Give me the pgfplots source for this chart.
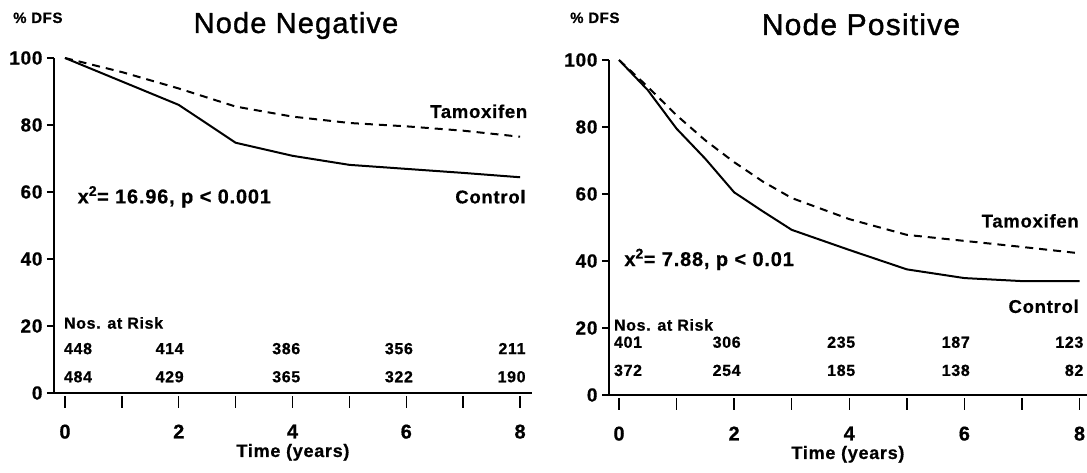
\documentclass[border=0pt]{standalone}
\usepackage{fontspec}
\setmainfont{Liberation Sans}[LetterSpace=4, BoldFeatures={FakeBold=0.6}]
\usepackage{pgfplots}
\usepackage{pgfplotstable}
\pgfplotsset{compat=1.18}

\newcommand\fs[1]{\fontsize{#1}{#1}\selectfont}

% disease-free survival (%), node-negative patients
\pgfplotstableread{
t   ctrl  tam
0   100   100
1   93.0  95.8
2   86.0  90.9
3   74.7  85.5
4   70.8  82.5
5   68.1  80.6
6   66.9  79.6
7   65.7  78.3
8   64.4  76.5
}\negdata

% disease-free survival (%), node-positive patients
\pgfplotstableread{
t    ctrl  tam
0    100   100
0.5  91.0  92.0
1    79.5  83.5
1.5  70.5  76.0
2    60.5  69.5
2.5  54.8  63.7
3    49.3  58.8
4    43.3  52.5
5    37.5  47.8
6    34.9  46.0
7    34.0  44.2
8    34.0  42.3
}\posdata

\pgfplotsset{
  kmbase/.style={
    scale only axis, width=478pt, height=335pt,
    ymin=0, ymax=100, clip=false, tick align=outside,
    /pgf/number format/assume math mode=true,
  },
  kmmain/.style={kmbase,
    axis x line*=bottom, axis y line*=left,
    x axis line style={-, line width=1.8pt},
    y axis line style={-, line width=1.8pt},
    xtick=\empty, ytick={0,20,...,100},
    major tick length=7pt,
    ytick style={line width=1.4pt, black},
    yticklabel style={font=\fs{19}\bfseries, xshift=-1pt},
  },
  kmtime/.style={kmbase,
    axis x line*=bottom, axis y line=none,
    x axis line style={draw=none},
    ytick=\empty,
    xtick={0,...,8}, xticklabels={0,,2,,4,,6,,8},
    major tick length=12pt,
    xtick style={line width=1.4pt, black},
    xticklabel style={font=\fs{20}\bfseries, yshift=-13pt},
    xlabel={Time (years)},
    xlabel style={font=\fs{18}\bfseries, at={(axis description cs:0.5,0)},
      anchor=base, yshift=-61pt},
  },
  ctrl/.style={line width=2pt, black},
  tam/.style={line width=2pt, black, dash pattern=on 8pt off 6pt},
}
\tikzset{
  lbl/.style={inner sep=0pt, font=\fs{18.5}\bfseries},
  stat/.style={inner sep=0pt, font=\fs{20}\bfseries},
  risk/.style={inner sep=0pt, font=\fs{16}\bfseries},
  riskhead/.style={inner sep=0pt, font=\fs{16}\bfseries},
  title/.style={inner sep=0pt, anchor=base, font=\fs{#1}\addfontfeatures{FakeBold=1.2}},
  dfs/.style={inner sep=0pt, anchor=base west, font=\fs{15}\bfseries},
}

\begin{document}
\begin{tikzpicture}
\useasboundingbox (0,0) rectangle (1087pt,473pt);

% ---------------- Node Negative ----------------
\begin{axis}[kmmain, at={(54pt,80pt)}, anchor=south west,
  xmin=-0.193, xmax=8.21]
  \addplot[ctrl] table[x=t, y=ctrl] {\negdata};
  \addplot[tam]  table[x=t, y=tam]  {\negdata};
  \node[stat, anchor=base west] at (axis cs:0.22,56.6)
    {x\textsuperscript{2}= 16.96, p < 0.001};
  \node[lbl, anchor=base east] at (axis cs:8.13,82.1) {Tamoxifen};
  \node[lbl, anchor=base east] at (axis cs:8.10,56.6) {Control};
  \node[riskhead, anchor=base west] at (axis cs:-0.02,19.2) {Nos. at Risk};
  \node[risk, anchor=base west] at (axis cs:-0.02,11.6) {448};
  \node[risk, anchor=base]      at (axis cs:1.84,11.6) {414};
  \node[risk, anchor=base]      at (axis cs:3.89,11.6) {386};
  \node[risk, anchor=base]      at (axis cs:5.87,11.6) {356};
  \node[risk, anchor=base east] at (axis cs:8.10,11.6) {211};
  \node[risk, anchor=base west] at (axis cs:-0.02,3.2) {484};
  \node[risk, anchor=base]      at (axis cs:1.84,3.2) {429};
  \node[risk, anchor=base]      at (axis cs:3.89,3.2) {365};
  \node[risk, anchor=base]      at (axis cs:5.87,3.2) {322};
  \node[risk, anchor=base east] at (axis cs:8.10,3.2) {190};
\end{axis}
\begin{axis}[kmtime, at={(54pt,77pt)}, anchor=south west,
  xmin=-0.193, xmax=8.21]
\end{axis}

% ---------------- Node Positive ----------------
\begin{axis}[kmmain, at={(609pt,78pt)}, anchor=south west,
  xmin=-0.174, xmax=8.13]
  \addplot[ctrl] table[x=t, y=ctrl] {\posdata};
  \addplot[tam]  table[x=t, y=tam]  {\posdata};
  \node[stat, anchor=base west] at (axis cs:0.09,38.5)
    {x\textsuperscript{2}= 7.88, p < 0.01};
  \node[lbl, anchor=base east] at (axis cs:7.99,50.0) {Tamoxifen};
  \node[lbl, anchor=base east] at (axis cs:7.99,24.5) {Control};
  \node[riskhead, anchor=base west] at (axis cs:-0.09,19.2) {Nos. at Risk};
  \node[risk, anchor=base west] at (axis cs:-0.09,14.1) {401};
  \node[risk, anchor=base]      at (axis cs:1.87,14.1) {306};
  \node[risk, anchor=base]      at (axis cs:3.86,14.1) {235};
  \node[risk, anchor=base]      at (axis cs:5.85,14.1) {187};
  \node[risk, anchor=base east] at (axis cs:8.07,14.1) {123};
  \node[risk, anchor=base west] at (axis cs:-0.09,5.7) {372};
  \node[risk, anchor=base]      at (axis cs:1.87,5.7) {254};
  \node[risk, anchor=base]      at (axis cs:3.86,5.7) {185};
  \node[risk, anchor=base]      at (axis cs:5.85,5.7) {138};
  \node[risk, anchor=base east] at (axis cs:8.07,5.7) {82};
\end{axis}
\begin{axis}[kmtime, at={(609pt,75pt)}, anchor=south west,
  xmin=-0.174, xmax=8.13]
\end{axis}

% panel titles and y-axis captions
\node[title=29] at (296pt,440pt) {Node Negative};
\node[title=30] at (861pt,438pt) {Node Positive};
\node[dfs] at (13pt,450pt) {\% DFS};
\node[dfs] at (570pt,450pt) {\% DFS};
\end{tikzpicture}
\end{document}
